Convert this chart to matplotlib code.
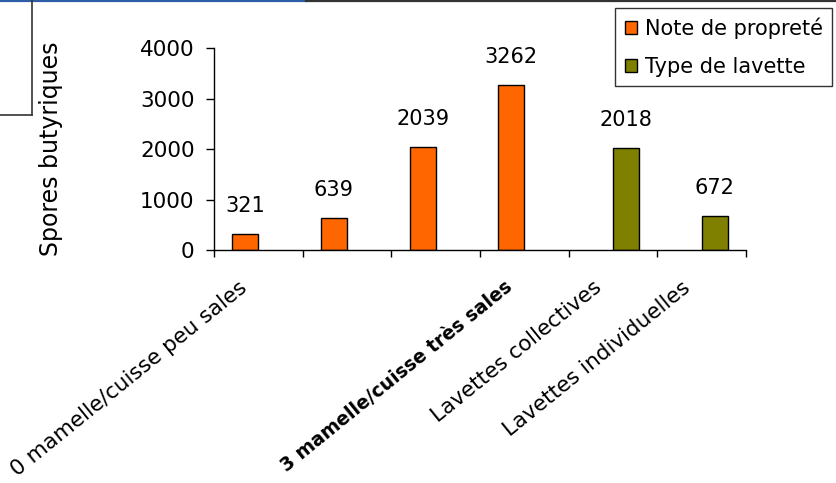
import numpy as np
import matplotlib
matplotlib.use("Agg")
import matplotlib.pyplot as plt
from matplotlib.lines import Line2D
from matplotlib.transforms import ScaledTranslation

# Categories (two intermediate cleanliness scores carry no label)
categories = ["0 mamelle/cuisse peu sales", "", "",
              "3 mamelle/cuisse très sales",
              "Lavettes collectives", "Lavettes individuelles"]
proprete_values = [321, 639, 2039, 3262]     # Note de propreté, categories 0-3
lavette_values = [2018, 672]                  # Type de lavette, categories 4-5
series_names = ["Note de propreté", "Type de lavette"]
y_ticks = [0, 1000, 2000, 3000, 4000]

ORANGE = "#FF6600"
OLIVE = "#808000"
FS = 15

fig = plt.figure(figsize=(8.37, 4.83), dpi=100)
ax = fig.add_axes([0.2557, 0.4824, 0.6356, 0.4182])

bar_w = 0.294
x_prop = np.arange(len(proprete_values))
x_lav = np.arange(len(proprete_values), len(categories))

bars_p = ax.bar(x_prop - bar_w / 2, proprete_values, width=bar_w,
                color=ORANGE, edgecolor="black", linewidth=1, label=series_names[0])
bars_l = ax.bar(x_lav + bar_w / 2, lavette_values, width=bar_w,
                color=OLIVE, edgecolor="black", linewidth=1, label=series_names[1])

for bars, vals in ((bars_p, proprete_values), (bars_l, lavette_values)):
    for b, v in zip(bars, vals):
        ax.annotate(f"{v}", (b.get_x() + b.get_width() / 2, v),
                    xytext=(0, 13), textcoords="offset points",
                    ha="center", va="bottom", fontsize=FS)

ax.set_xlim(-0.5, len(categories) - 0.5)
ax.set_ylim(0, 4000)
ax.set_yticks(y_ticks)
ax.tick_params(axis="y", direction="out", length=6, width=1, labelsize=15.5, pad=8)

# ticks on category boundaries, labels at centers
ax.set_xticks(np.arange(-0.5, len(categories)))
ax.set_xticklabels([])
ax.set_xticks(np.arange(len(categories)), minor=True)
ax.set_xticklabels(categories, minor=True, rotation=39, ha="right", va="top",
                   rotation_mode="anchor", fontsize=15.5)
ax.tick_params(axis="x", which="major", direction="out", length=5, width=1)
ax.tick_params(axis="x", which="minor", length=0, pad=14)
shift = ScaledTranslation(-20 / 100, -8 / 100, fig.dpi_scale_trans)
for lbl in ax.get_xticklabels(minor=True):
    lbl.set_transform(lbl.get_transform() + shift)
    if lbl.get_text().startswith("3 mamelle"):
        lbl.set_fontweight("bold")
        lbl.set_fontsize(13.5)

for s in ("top", "right"):
    ax.spines[s].set_visible(False)
for s in ("left", "bottom"):
    ax.spines[s].set_linewidth(1)
    ax.spines[s].set_color("black")

ax.set_ylabel("Spores butyriques", fontsize=17)
ax.yaxis.set_label_coords(-0.284, 0.5)

leg = ax.legend(loc="upper right", bbox_to_anchor=(832 / 837, 1 - 8 / 483),
                bbox_transform=fig.transFigure, borderaxespad=0, fontsize=FS,
                frameon=True, fancybox=False, handlelength=0.6, handleheight=0.6,
                handletextpad=0.35, labelspacing=0.85, borderpad=0.45)
leg.get_frame().set_edgecolor("black")
leg.get_frame().set_linewidth(1)

# frame edges around the chart
W, H = 837, 483
fig.add_artist(Line2D([0, 306 / W], [1 - 1 / H, 1 - 1 / H], color="#2e5ea8", lw=1.6))
fig.add_artist(Line2D([306 / W, 1], [1 - 1 / H, 1 - 1 / H], color="#333333", lw=1.6))
fig.add_artist(Line2D([32 / W, 32 / W], [1, 1 - 115 / H], color="#333333", lw=1.2))
fig.add_artist(Line2D([0, 32 / W], [1 - 115 / H, 1 - 115 / H], color="#333333", lw=1.2))

fig.savefig("out.png", dpi=100)
